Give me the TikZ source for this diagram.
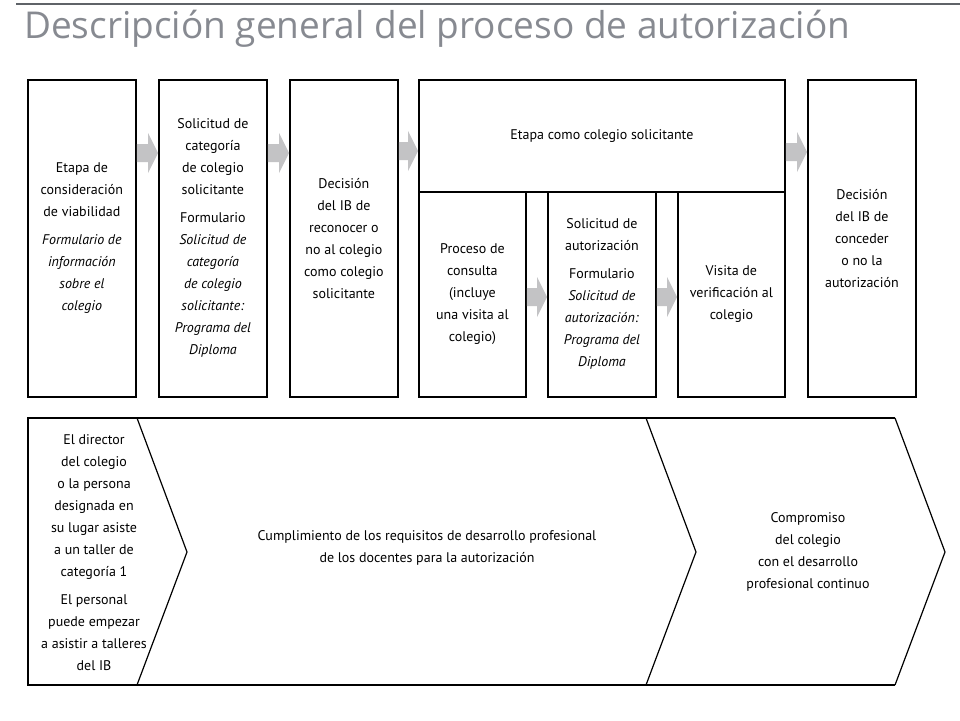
\documentclass[tikz,border=0pt]{standalone}
\usepackage{fontspec}
\setmainfont{PT Sans}
\newfontfamily\titlefont{Open Sans}
\usetikzlibrary{calc}
\definecolor{titlegray}{RGB}{135,138,145}
\definecolor{rulegray}{RGB}{95,99,104}
\definecolor{arrowgray}{RGB}{195,195,197}
\newcommand\blockarr[3]{%
  \coordinate (tmpy) at (0,#3);
  \fill[arrowfill] let \p1=(#1.east |- tmpy), \p2=(#2.west |- tmpy) in
    (\x1,\y1+9pt) -- (\x2-10pt,\y1+9pt) -- (\x2-10pt,\y1+20pt) -- (\x2,\y1)
    -- (\x2-10pt,\y1-20pt) -- (\x2-10pt,\y1-9pt) -- (\x1,\y1-9pt) -- cycle;}
\begin{document}
\begin{tikzpicture}[x=1pt,y=-1pt,
  bodytext/.style={font=\fontsize{14}{22}\selectfont, align=center},
  box/.style={bodytext, draw, line width=1.8pt, inner sep=0pt, anchor=north west,
    minimum width=108pt, minimum height=317pt},
  subbox/.style={box, minimum height=205pt},
  arrowfill/.style={fill=arrowgray},
  outline/.style={line width=1.8pt, line join=miter},
  chevron/.style={line width=1.2pt, line join=miter}]
\useasboundingbox (0,0) rectangle (960,720);
\fill[white] (0,0) rectangle (960,720);
% top rule and title
\draw[rulegray, line width=2pt] (16,4) -- (960,4);
\node[anchor=base west, inner sep=0pt, text=titlegray,
  font=\titlefont\fontsize{37}{44}\selectfont] (title) at (24,38)
  {Descripción general del proceso de autorización};
% main boxes
\node[box] (b1) at (27,79) {Etapa de\\consideración\\de viabilidad\\[6pt]
  \textit{Formulario de}\\\textit{información}\\\textit{sobre el}\\\textit{colegio}};
\node[box] (b2) at (158,79) {Solicitud de\\categoría\\de colegio\\solicitante\\[6pt]
  Formulario\\\textit{Solicitud de}\\\textit{categoría}\\\textit{de colegio}\\
  \textit{solicitante:}\\\textit{Programa del}\\\textit{Diploma}};
\node[box] (b3) at (289,79) {Decisión\\del IB de\\reconocer o\\no al colegio\\como colegio\\solicitante};
\node[box, minimum width=366pt, minimum height=112pt] (etapa) at (418,79)
  {Etapa como colegio solicitante};
\node[subbox, minimum width=107pt] (sa) at (418,191)
  {Proceso de\\consulta\\(incluye\\una visita al\\colegio)};
\node[subbox] (sb) at (547,191) {Solicitud de\\autorización\\[6pt]Formulario\\
  \textit{Solicitud de}\\\textit{autorización:}\\\textit{Programa del}\\\textit{Diploma}};
\node[subbox, minimum width=107pt] (sc) at (677,191) {Visita de\\verificación al\\colegio};
\node[box] (b5) at (807,79) {Decisión\\del IB de\\conceder\\o no la\\autorización};
% block arrows
\blockarr{b1}{b2}{153}
\blockarr{b2}{b3}{153}
\blockarr{b3}{etapa}{151}
\blockarr{etapa}{b5}{152}
\blockarr{sa}{sb}{297}
\blockarr{sb}{sc}{297}
% bottom band
\draw[outline] (895,418) -- (28,418) -- (28,685) -- (895,685);
\draw[chevron] (895,418) -- (945,552) -- (895,685);
\draw[chevron] (137,418) -- (187,552) -- (137,685);
\draw[chevron] (646,418) -- (696,552) -- (646,685);
\node[bodytext] (dir) at (94,553) {El director\\del colegio\\o la persona\\designada en\\
  su lugar asiste\\a un taller de\\categoría 1\\[6pt]El personal\\puede empezar\\
  a asistir a talleres\\del IB};
\node[bodytext] (cump) at (427,548) {Cumplimiento de los requisitos de desarrollo profesional\\
  de los docentes para la autorización};
\node[bodytext] (comp) at (808,552) {Compromiso\\del colegio\\con el desarrollo\\profesional continuo};
\end{tikzpicture}
\end{document}
